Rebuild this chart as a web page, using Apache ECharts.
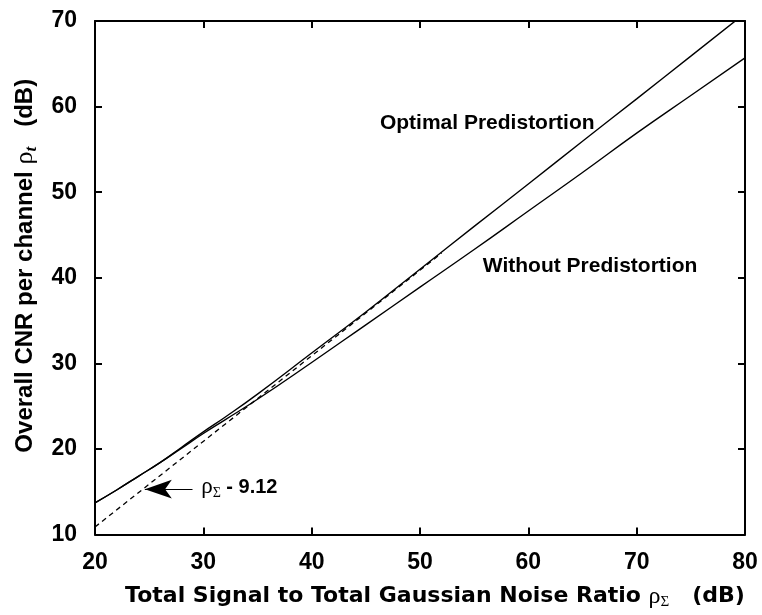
<!DOCTYPE html>
<html>
<head>
<meta charset="utf-8">
<script src="https://cdn.jsdelivr.net/npm/echarts@6/dist/echarts.min.js"></script>
<style>
html,body{margin:0;padding:0;background:#fff;}
#main{width:762px;height:615px;}
</style>
</head>
<body>
<div id="main"></div>
<script>
// ---- data ----
var xTicks = [20, 30, 40, 50, 60, 70, 80];
var yTicks = [10, 20, 30, 40, 50, 60, 70];

var optX = [20, 22, 24, 26, 28, 30, 32, 35, 40, 45, 50, 55, 60, 65, 70, 75, 80];
var optY = [13.7, 15.2, 16.8, 18.4, 20.2, 22.0, 23.7, 26.4, 31.2, 36.0, 41.0, 46.0, 50.95, 55.95, 60.9, 65.9, 70.9];

var woX = [20, 22, 24, 26, 28, 30, 32, 35, 40, 45, 50, 55, 60, 65, 70, 75, 80];
var woY = [13.7, 15.2, 16.8, 18.4, 20.1, 21.8, 23.4, 25.8, 30.1, 34.5, 38.9, 43.3, 47.8, 52.3, 56.9, 61.3, 65.7];

var dashX = [20, 52];
var dashY = [10.88, 42.88];

var arrowTail = [29.0, 15.3];
var arrowTip = [24.6, 15.3];

var labelOptimal = {text: 'Optimal Predistortion', x: 46.3, y: 58.0};
var labelWithout = {text: 'Without Predistortion', x: 55.8, y: 41.3};
var labelDash = {x: 29.8, y: 15.5};

function pairs(xs, ys) { return xs.map(function (x, i) { return [x, ys[i]]; }); }

var SANS = '"Liberation Sans", Arial, sans-serif';
var WIDE = '"DejaVu Sans", "Liberation Sans", sans-serif';
var SERIF = '"Liberation Serif", "DejaVu Serif", serif';
var BLACK = '#000';

var chart = echarts.init(document.getElementById('main'), null, {renderer: 'canvas'});

function baseAxis(extra) {
  var a = {
    type: 'value',
    axisLine: {show: true, onZero: false, lineStyle: {color: BLACK, width: 2}},
    axisTick: {show: true, inside: true, length: 7, lineStyle: {color: BLACK, width: 2}},
    splitLine: {show: false},
    axisLabel: {show: false}
  };
  for (var k in extra) a[k] = extra[k];
  return a;
}

var tickLabelStyle = {show: true, color: BLACK, fontSize: 23, fontWeight: 'bold', fontFamily: SANS};

var option = {
  animation: false,
  backgroundColor: '#fff',
  grid: {left: 95, right: 17, top: 21, bottom: 80, containLabel: false},
  xAxis: [
    baseAxis({
      min: xTicks[0], max: xTicks[xTicks.length - 1], interval: 10, position: 'bottom',
      axisLabel: Object.assign({margin: 17}, tickLabelStyle),
      name: 'Total Signal to Total Gaussian Noise Ratio {rho|ρ}{sub|Σ}   (dB)',
      nameLocation: 'middle', nameGap: 49,
      nameTextStyle: {
        color: BLACK, fontSize: 22, fontWeight: 'bold', fontFamily: WIDE, lineHeight: 26,
        padding: [0, 0, 0, 30],
        rich: {
          rho: {fontFamily: SERIF, fontSize: 24, fontWeight: 'normal', color: BLACK, lineHeight: 26},
          sub: {fontFamily: SERIF, fontSize: 15, fontWeight: 'normal', color: BLACK, lineHeight: 14, padding: [12, 0, 0, 0]}
        }
      }
    }),
    baseAxis({min: xTicks[0], max: xTicks[xTicks.length - 1], interval: 10, position: 'top'})
  ],
  yAxis: [
    baseAxis({
      min: yTicks[0], max: yTicks[yTicks.length - 1], interval: 10, position: 'left',
      axisLabel: Object.assign({margin: 18}, tickLabelStyle),
      name: 'Overall CNR per channel {rho|ρ}{sub|t}   (dB)',
      nameLocation: 'middle', nameGap: 49,
      nameTextStyle: {
        color: BLACK, fontSize: 24, fontWeight: 'bold', fontFamily: SANS, lineHeight: 28,
        padding: [0, 0, 0, 24],
        rich: {
          rho: {fontFamily: SERIF, fontSize: 26, fontWeight: 'normal', color: BLACK, lineHeight: 28},
          sub: {fontFamily: SERIF, fontSize: 17, fontWeight: 'bold', fontStyle: 'italic', color: BLACK, lineHeight: 15, padding: [13, 0, 0, 0]}
        }
      }
    }),
    baseAxis({min: yTicks[0], max: yTicks[yTicks.length - 1], interval: 10, position: 'right'})
  ],
  series: [
    {
      name: 'Optimal Predistortion', type: 'line', xAxisIndex: 0, yAxisIndex: 0,
      data: pairs(optX, optY), showSymbol: false, smooth: true, clip: true,
      lineStyle: {color: BLACK, width: 1.4}, silent: true,
      markPoint: {
        symbol: 'circle', symbolSize: 0, silent: true,
        label: {show: true, position: 'right', distance: 0, color: BLACK, fontSize: 21, fontWeight: 'bold', fontFamily: SANS,
          formatter: function (p) { return p.name; }},
        data: [
          {name: labelOptimal.text, coord: [labelOptimal.x, labelOptimal.y]},
          {name: labelWithout.text, coord: [labelWithout.x, labelWithout.y]}
        ]
      }
    },
    {
      name: 'Without Predistortion', type: 'line', xAxisIndex: 0, yAxisIndex: 0,
      data: pairs(woX, woY), showSymbol: false, smooth: true, clip: true,
      lineStyle: {color: BLACK, width: 1.4}, silent: true
    },
    {
      name: 'rho - 9.12', type: 'line', xAxisIndex: 0, yAxisIndex: 0,
      data: pairs(dashX, dashY), showSymbol: false, clip: true,
      lineStyle: {color: BLACK, width: 1.3, type: [5, 4]}, silent: true,
      markLine: {
        silent: true, animation: false,
        lineStyle: {color: BLACK, width: 1.2, type: 'solid'},
        label: {show: false},
        symbolSize: [14, 27],
        data: [[
          {coord: arrowTail, symbol: 'none'},
          {coord: arrowTip, symbol: 'arrow'}
        ]]
      },
      markPoint: {
        symbol: 'circle', symbolSize: 0, silent: true,
        label: {show: true, position: 'right', distance: 0, color: BLACK, fontSize: 19, fontWeight: 'bold', fontFamily: SANS,
          lineHeight: 24,
          formatter: '{rho|ρ}{sub|Σ}{b| - 9.12}',
          rich: {
            rho: {fontFamily: SERIF, fontSize: 23, fontWeight: 'normal', color: BLACK, lineHeight: 24},
            sub: {fontFamily: SERIF, fontSize: 14, fontWeight: 'normal', color: BLACK, lineHeight: 14, padding: [11, 0, 0, 0]},
            b: {fontFamily: SANS, fontSize: 20, fontWeight: 'bold', color: BLACK, lineHeight: 24}
          }
        },
        data: [{name: 'dash', coord: [labelDash.x, labelDash.y]}]
      }
    }
  ]
};
chart.setOption(option);
</script>
</body>
</html>
